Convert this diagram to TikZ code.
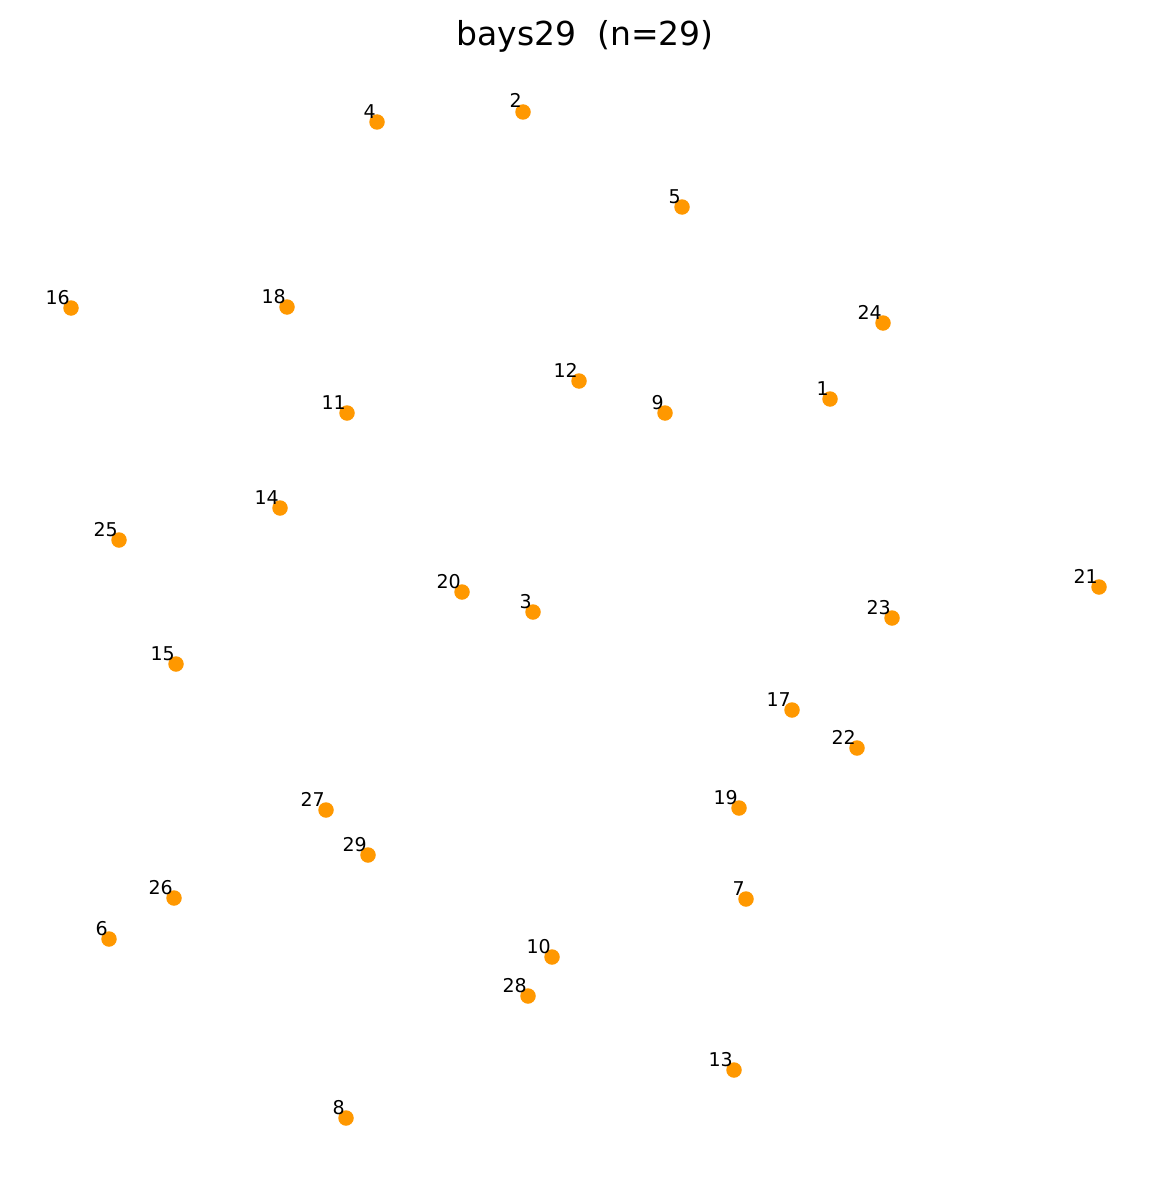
\documentclass[tikz,border=0pt]{standalone}
\usepackage{fontspec}
\setmainfont{DejaVu Sans}
\definecolor{dotc}{RGB}{255,152,0}
\begin{document}
\begin{tikzpicture}[x=1pt,y=-1pt,
  dot/.style={circle,fill=dotc,draw=none,minimum size=15.5pt,inner sep=0pt},
  lbl/.style={anchor=base east,inner sep=0pt,font=\fontsize{19}{20}\selectfont}]
\useasboundingbox (0,0) rectangle (1170,1188);
\node[anchor=base,inner sep=0pt,font=\fontsize{33}{36}\selectfont] (title) at (585,46) {bays29\ \ (n=29)};
\foreach \n/\x/\y in {1/830/399,2/523/112,3/533/612,4/377/122,5/682/207,6/109/939,7/746/899,8/346/1118,9/665/413,10/552/957,11/347/413,12/579/381,13/734/1070,14/280/508,15/176/664,16/71/308,17/792/710,18/287/307,19/739/808,20/462/592,21/1099/587,22/857/748,23/892/618,24/883/323,25/119/540,26/174/898,27/326/810,28/528/996,29/368/855}{
  \node[dot] (p\n) at (\x,\y) {};
  \node[lbl] (l\n) at ([shift={(-1,-4)}]p\n.center) {\n};
}
\end{tikzpicture}
\end{document}
